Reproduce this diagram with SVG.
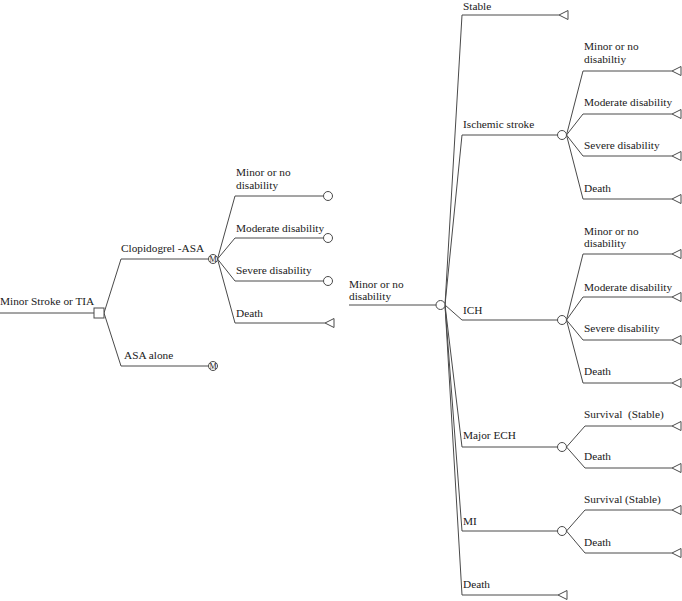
<svg xmlns="http://www.w3.org/2000/svg" width="682" height="601" viewBox="0 0 682 601">
<style>
text{font-family:"Liberation Serif","Times New Roman",serif;font-size:11.3px;fill:#1a1a1a}
.c{fill:none;stroke:#4a4a4a;stroke-width:1}
.n{fill:#fff;stroke:#4a4a4a;stroke-width:1}
.m{font-size:8px;text-anchor:middle}
</style>
<defs>
<circle id="ch" r="4.5" class="n"/>
<polygon id="tri" points="0,0 9,-4.5 9,4.5" class="n"/>
</defs>
<rect width="682" height="601" fill="#fff"/>
<g id="connectors" class="c">
<path d="M0,313H94"/>
<path d="M104,313L121,259H208M104,313L121,366H208"/>
<path d="M217.5,259L235,196H323.5M217.5,259L235,238H323.5M217.5,259L235,281H323.5M217.5,259L235,323H325"/>
<path d="M349,305H436"/>
<path d="M445,305L462,15H559M445,305L462,135H557.5M445,305L462,320H557.5M445,305L462,447H557.5M445,305L462,531H557.5M445,305L462,595H558"/>
<path d="M566.5,135L583,71H672M566.5,135L583,114H672M566.5,135L583,156H672M566.5,135L583,199H672"/>
<path d="M566.5,320L583,254H672M566.5,320L583,297H672M566.5,320L583,340H672M566.5,320L583,383H672"/>
<path d="M566.5,447L585,426H672M566.5,447L585,468H672"/>
<path d="M566.5,531L585,510H672M566.5,531L585,553H672"/>
</g>
<g id="root"><rect x="94" y="308" width="10" height="10" class="n"/><text x="0" y="305">Minor Stroke or TIA</text></g>
<g id="clop"><circle cx="213" cy="259" r="4.5" class="n"/><text class="m" x="213" y="262">M</text><text x="121" y="252">Clopidogrel -ASA</text></g>
<g id="asa"><circle cx="213" cy="366" r="4.5" class="n"/><text class="m" x="213" y="369">M</text><text x="124" y="359">ASA alone</text></g>
<g id="c-minor"><use href="#ch" x="328" y="196"/><text x="236" y="176">Minor or no</text><text x="236" y="189">disability</text></g>
<g id="c-mod"><use href="#ch" x="328" y="238"/><text x="236" y="232">Moderate disability</text></g>
<g id="c-sev"><use href="#ch" x="328" y="281"/><text x="236" y="274">Severe disability</text></g>
<g id="c-death"><use href="#tri" x="325" y="323"/><text x="236" y="317">Death</text></g>
<g id="minor"><use href="#ch" x="440.5" y="305"/><text x="349" y="288">Minor or no</text><text x="349" y="300">disability</text></g>
<g id="stable"><use href="#tri" x="559" y="15"/><text x="463" y="9.5">Stable</text></g>
<g id="isch"><use href="#ch" x="562" y="135"/><text x="463" y="128">Ischemic stroke</text></g>
<g id="i-minor"><use href="#tri" x="672" y="71"/><text x="584" y="50">Minor or no</text><text x="584" y="63">disabiltiy</text></g>
<g id="i-mod"><use href="#tri" x="672" y="114"/><text x="584" y="106">Moderate disability</text></g>
<g id="i-sev"><use href="#tri" x="672" y="156"/><text x="584" y="149">Severe disability</text></g>
<g id="i-death"><use href="#tri" x="672" y="199"/><text x="584" y="192">Death</text></g>
<g id="ich"><use href="#ch" x="562" y="320"/><text x="463" y="314">ICH</text></g>
<g id="h-minor"><use href="#tri" x="672" y="254"/><text x="584" y="235">Minor or no</text><text x="584" y="247">disability</text></g>
<g id="h-mod"><use href="#tri" x="672" y="297"/><text x="584" y="291">Moderate disability</text></g>
<g id="h-sev"><use href="#tri" x="672" y="340"/><text x="584" y="332">Severe disability</text></g>
<g id="h-death"><use href="#tri" x="672" y="383"/><text x="584" y="375">Death</text></g>
<g id="ech"><use href="#ch" x="562" y="447"/><text x="463" y="439">Major ECH</text></g>
<g id="e-surv"><use href="#tri" x="672" y="426"/><text x="584" y="418" xml:space="preserve">Survival  (Stable)</text></g>
<g id="e-death"><use href="#tri" x="672" y="468"/><text x="584" y="460">Death</text></g>
<g id="mi"><use href="#ch" x="562" y="531"/><text x="463" y="525">MI</text></g>
<g id="m-surv"><use href="#tri" x="672" y="510"/><text x="584" y="503">Survival (Stable)</text></g>
<g id="m-death"><use href="#tri" x="672" y="553"/><text x="584" y="546">Death</text></g>
<g id="death"><use href="#tri" x="558" y="595"/><text x="463" y="588">Death</text></g>
</svg>
